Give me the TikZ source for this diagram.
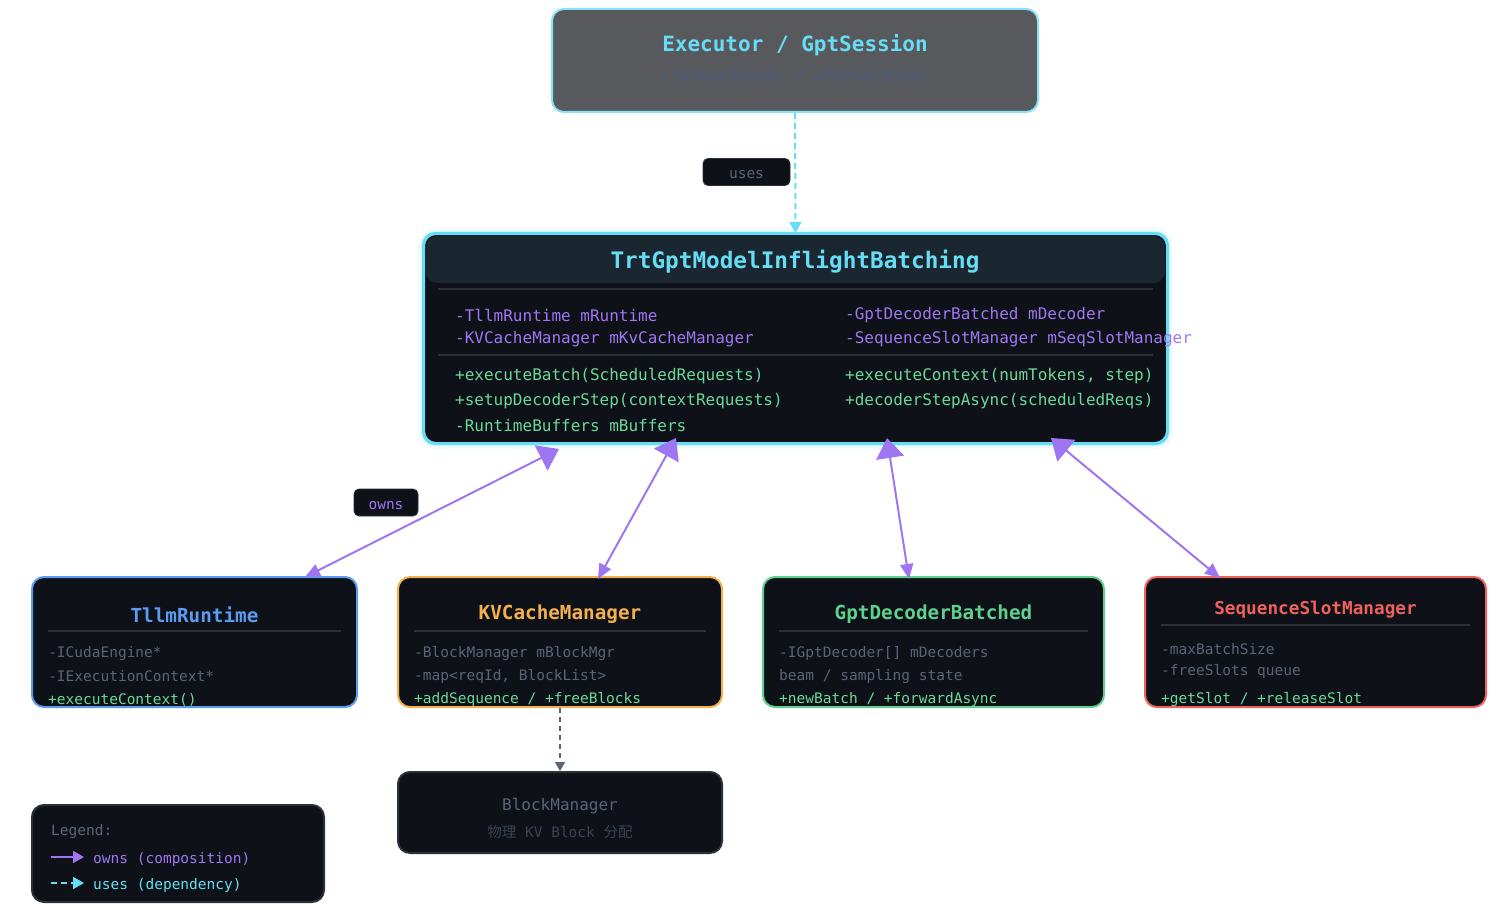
\documentclass[tikz,border=0pt]{standalone}
\usepackage{fontspec}
\setmainfont{DejaVu Sans Mono}
\newfontfamily\cjk{Noto Sans CJK SC}
\usepackage{xcolor}
\usetikzlibrary{arrows.meta}
\usetikzlibrary{calc}

\definecolor{boxbg}{HTML}{0E1117}
\definecolor{execbg}{HTML}{58595D}
\definecolor{execline}{HTML}{86E2F5}
\definecolor{cyanc}{HTML}{67DDF5}
\definecolor{headbg}{HTML}{1B2730}
\definecolor{sepc}{HTML}{29313B}
\definecolor{purpc}{HTML}{9F76F2}
\definecolor{greenc}{HTML}{6BD99A}
\definecolor{dimc}{HTML}{5A6478}
\definecolor{dimmer}{HTML}{3A4354}
\definecolor{subc}{HTML}{4A5C7E}
\definecolor{bluec}{HTML}{5B9CF2}
\definecolor{orangec}{HTML}{F4B04E}
\definecolor{grnbox}{HTML}{5FD18F}
\definecolor{redc}{HTML}{EE625E}
\definecolor{bmline}{HTML}{2B3039}
\definecolor{arrowgray}{HTML}{5A6478}

\begin{document}
\begin{tikzpicture}[x=1pt, y=-1pt,
    box/.style={rounded corners=12pt, line width=2pt, fill=boxbg, inner sep=0pt},
    ttl/.style={inner sep=0pt, yshift=-1.5pt, font=\bfseries\fontsize{19.3}{22}\selectfont},
    body/.style={anchor=west, inner sep=0pt, yshift=-1.5pt, font=\fontsize{14.5}{17}\selectfont},
    mbody/.style={anchor=west, inner sep=0pt, yshift=-1.5pt, font=\fontsize{16}{19}\selectfont},
    sep/.style={draw=sepc, line width=1.5pt},
    tag/.style={rounded corners=5pt, fill=boxbg, draw=sepc, line width=0.8pt,
        minimum height=27pt, inner sep=0pt, text height=13pt, text depth=0pt,
        font=\fontsize{14.5}{17}\selectfont},
    owns/.style={draw=purpc, line width=2pt,
        arrows={Triangle[length=20pt,width=28pt]-Triangle[length=15pt,width=13pt]}},
    uses/.style={draw=cyanc, line width=2pt, dash pattern=on 6pt off 4pt,
        -{Triangle[length=11pt,width=12pt]}}
  ]
  \useasboundingbox (0,0) rectangle (1504,920);

  % caller
  \node[box, fill=execbg, draw=execline, minimum width=486pt, minimum height=103pt] (exec) at (795,60.5) {};
  \node[inner sep=0pt, text=cyanc, font=\bfseries\fontsize{21}{24}\selectfont] (exec-t) at (795,45.5) {Executor / GptSession};
  \node[inner sep=0pt, text=subc, font=\fontsize{16}{19}\selectfont] (exec-s) at (795,77.5) {+forwardAsync / +forwardSync};

  % main class, with glow
  \foreach \w/\op in {14/0.05,10/0.08,6/0.15} {
    \draw[cyanc, opacity=\op, line width=\w pt, rounded corners=12pt] (424,234) rectangle (1167,443);
  }
  \node[box, draw=cyanc, minimum width=743pt, minimum height=209pt] (main) at (795.5,338.5) {};
  \fill[headbg, rounded corners=11pt] (426,236) rectangle (1165,283);
  \draw[cyanc, line width=2pt, rounded corners=12pt] (main.north west) rectangle (main.south east);
  \node[inner sep=0pt, text=cyanc, font=\bfseries\fontsize{22.7}{26}\selectfont] (main-t) at (795,261.5) {TrtGptModelInflightBatching};
  \draw[sep] (438,289) -- (1153,289);
  \draw[sep] (438,355) -- (1153,355);
  \node[mbody, text=purpc] (m1) at (455,314) {-TllmRuntime mRuntime};
  \node[mbody, text=purpc] (m2) at (455,338) {-KVCacheManager mKvCacheManager};
  \node[mbody, text=purpc] (m3) at (845,314) {-GptDecoderBatched mDecoder};
  \node[mbody, text=purpc] (m4) at (845,338) {-SequenceSlotManager mSeqSlotManager};
  \node[mbody, text=greenc] (m5) at (455,375) {+executeBatch(ScheduledRequests)};
  \node[mbody, text=greenc] (m6) at (455,400) {+setupDecoderStep(contextRequests)};
  \node[mbody, text=greenc] (m7) at (455,424) {-RuntimeBuffers mBuffers};
  \node[mbody, text=greenc] (m8) at (845,375) {+executeContext(numTokens, step)};
  \node[mbody, text=greenc] (m9) at (845,400) {+decoderStepAsync(scheduledReqs)};

  % owned parts
  \node[box, draw=bluec, minimum width=325pt, minimum height=130pt] (tllm) at (194.5,642) {};
  \node[ttl, text=bluec] (tllm-t) at (194.5,613) {TllmRuntime};
  \draw[sep] (48,631) -- (341,631);
  \node[body, text=dimc] (tllm-a) at (48,652) {-ICudaEngine*};
  \node[body, text=dimc] (tllm-b) at (48,675) {-IExecutionContext*};
  \node[body, text=greenc] (tllm-c) at (48,698) {+executeContext()};

  \node[box, draw=orangec, minimum width=324pt, minimum height=130pt] (kv) at (560,642) {};
  \node[ttl, text=orangec] (kv-t) at (560,613) {KVCacheManager};
  \draw[sep] (414,631) -- (706,631);
  \node[body, text=dimc] (kv-a) at (414,652) {-BlockManager mBlockMgr};
  \node[body, text=dimc] (kv-b) at (414,675) {-map<reqId, BlockList>};
  \node[body, text=greenc] (kv-c) at (414,698) {+addSequence / +freeBlocks};

  \node[box, draw=grnbox, minimum width=341pt, minimum height=130pt] (gpt) at (933.5,642) {};
  \node[ttl, text=grnbox] (gpt-t) at (933.5,613) {GptDecoderBatched};
  \draw[sep] (779,631) -- (1088,631);
  \node[body, text=dimc] (gpt-a) at (779,652) {-IGptDecoder[] mDecoders};
  \node[body, text=dimc] (gpt-b) at (779,675) {beam / sampling state};
  \node[body, text=greenc] (gpt-c) at (779,698) {+newBatch / +forwardAsync};

  \node[box, draw=redc, minimum width=341pt, minimum height=130pt] (seq) at (1315.5,642) {};
  \node[ttl, text=redc, font=\bfseries\fontsize{17.7}{21}\selectfont] (seq-t) at (1315.5,608) {SequenceSlotManager};
  \draw[sep] (1161,625) -- (1470,625);
  \node[body, text=dimc] (seq-a) at (1161,648) {-maxBatchSize};
  \node[body, text=dimc] (seq-b) at (1161,670) {-freeSlots queue};
  \node[body, text=greenc] (seq-c) at (1161,698) {+getSlot / +releaseSlot};

  % block manager
  \node[box, draw=bmline, minimum width=324pt, minimum height=81pt] (bm) at (560,812.5) {};
  \node[inner sep=0pt, text=dimc, font=\fontsize{16}{19}\selectfont] (bm-t) at (560,806.5) {BlockManager};
  \node[inner sep=0pt, text=dimmer, font=\fontsize{14.5}{17}\selectfont] (bm-s) at (560,832) {{\cjk 物理} KV Block {\cjk 分配}};

  % connectors
  \draw[uses] (exec.south) -- (main.north);
  \node[tag, minimum width=87pt, text=dimc] (uses-l) at (746.5,172) {uses};
  \draw[owns] ($(main.south west)+(136,5)$) -- ($(tllm.north)+(110.5,1)$);
  \draw[owns] ($(main.south west)+(253,-6)$) -- ($(kv.north)+(38,3)$);
  \draw[owns] ($(main.south west)+(464,-6)$) -- ($(gpt.north)+(-24.5,3)$);
  \draw[owns] ($(main.south west)+(628,-6)$) -- ($(seq.north)+(-95.5,2)$);
  \node[tag, minimum width=64pt, text=purpc] (owns-l) at (386,502.5) {owns};
  \draw[arrowgray, line width=1.5pt, dash pattern=on 5pt off 4pt,
        -{Triangle[length=9pt,width=10pt]}] (kv.south) -- (bm.north);

  % legend
  \node[box, draw=bmline, minimum width=292pt, minimum height=97pt] (legend) at (178,853.5) {};
  \node[body, text=dimc] (leg-t) at (51,830) {Legend:};
  \coordinate (lo1) at (51,857);
  \coordinate (lo2) at (84,857);
  \coordinate (lu1) at (51,883);
  \coordinate (lu2) at (84,883);
  \draw[purpc, line width=2pt, -{Triangle[length=11pt,width=12pt]}] (lo1) -- (lo2);
  \draw[uses] (lu1) -- (lu2);
  \node[body, text=purpc] (leg-o) at (93,858) {owns (composition)};
  \node[body, text=cyanc] (leg-u) at (93,884) {uses (dependency)};
\end{tikzpicture}
\end{document}
